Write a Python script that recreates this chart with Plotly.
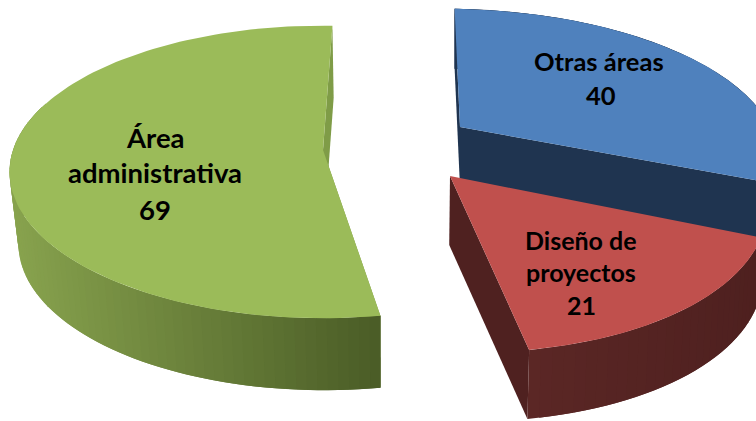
import math
import plotly.graph_objects as go

categories = ["Área administrativa", "Otras áreas", "Diseño de proyectos"]
values = [69, 40, 21]
label_lines = [["Área", "administrativa"], ["Otras áreas"], ["Diseño de", "proyectos"]]
top_colors = ["#9bbb59", "#4f81bd", "#c0504d"]
cut_colors = ["#7f9c47", "#1f3450", "#4f2120"]
wall_left = ["#88a34e", "#1f3450", "#5b2725"]
wall_right = ["#4a5c26", "#1f3450", "#4e201f"]

# perspective geometry of the three exploded slices (screen px)
START_DEG = 2.0
K = 0.15
VX = 385
tips = [(323, 150), (460, 127), (450, 176)]
radii_x = [310, 310, 310]
radii_y = [143, 136, 150]
shears = [0.0, 0.125, 0.125]
heights = [72, 60, 69]
converge = [0.024, 0.0, 0.012]
label_sizes = [27.5, 25.5, 25]
label_xy = [[(155, 137), (155, 172), (155, 209)],
            [(599, 61), (601, 95)],
            [(581, 240), (581, 272), (581, 305)]]


def rim(i, deg, bottom=False):
    t = math.radians(deg)
    f = math.cos(t)
    s = 1 / (1 + K * f)
    tx, ty = tips[i]
    dy = -radii_y[i] * f * s
    x = tx + radii_x[i] * math.sin(t) * s + shears[i] * dy
    y = ty + dy
    return lower(i, x, y) if bottom else (x, y)


def lower(i, x, y):
    return x + (VX - x) * converge[i], y + heights[i]


def poly(pts, color):
    xs = [p[0] for p in pts] + [pts[0][0]]
    ys = [p[1] for p in pts] + [pts[0][1]]
    return go.Scatter(x=xs, y=ys, mode="lines", fill="toself", fillcolor=color,
                      line=dict(color=color, width=0), hoverinfo="skip", showlegend=False)


def mix(c1, c2, w):
    a = [int(c1[j:j + 2], 16) for j in (1, 3, 5)]
    b = [int(c2[j:j + 2], 16) for j in (1, 3, 5)]
    return "#" + "".join(f"{round(p + (q - p) * w):02x}" for p, q in zip(a, b))


total = sum(values)
angles = [v / total * 360 for v in values]

# clockwise order on the dial: blue, red, then green
spans = {1: (START_DEG, START_DEG + angles[1])}
spans[2] = (spans[1][1], spans[1][1] + angles[2])
spans[0] = (spans[2][1], spans[2][1] + angles[0])

fig = go.Figure()
for i in [1, 0, 2]:
    a0, a1 = spans[i]
    tip = tips[i]
    tip_b = lower(i, *tip)

    # cut faces
    if i == 0:
        fig.add_trace(poly([rim(i, a0), rim(i, a0, True), tip_b, tip], cut_colors[i]))
        fig.add_trace(poly([rim(i, a1), rim(i, a1, True), tip_b, tip], cut_colors[i]))
    if i == 1:
        fig.add_trace(poly([rim(i, a0), rim(i, a0, True), tip_b, tip], cut_colors[i]))
        fig.add_trace(poly([rim(i, a1), rim(i, a1, True), tip_b, tip], cut_colors[i]))
    if i == 2:
        fig.add_trace(poly([rim(i, a1), rim(i, a1, True), tip_b, tip], cut_colors[i]))

    # outer wall in shaded strips, painted from the far end; each strip runs under the next
    n = 70 if i == 0 else 30
    lo, hi = (a0, min(a1, 290)) if i == 0 else (a0, a1)
    xs_all = [rim(i, lo + (hi - lo) * k / 200)[0] for k in range(201)]
    xlo, xhi = min(xs_all), max(xs_all)
    for k in range(n):
        d0 = hi - (hi - lo) * k / n
        d1 = hi - (hi - lo) * (k + 1) / n
        d2 = max(lo, hi - (hi - lo) * (k + 2) / n)
        mx = (rim(i, d0)[0] + rim(i, d1)[0]) / 2
        w = max(0, min(1, (mx - xlo) / (xhi - xlo)))
        col = mix(wall_left[i], wall_right[i], w)
        fig.add_trace(poly([rim(i, d0), rim(i, d1), rim(i, d2),
                            rim(i, d2, True), rim(i, d1, True), rim(i, d0, True)], col))

    # top face
    steps = 120
    pts = [tip] + [rim(i, a0 + (a1 - a0) * k / steps) for k in range(steps + 1)]
    fig.add_trace(poly(pts, top_colors[i]))

annotations = []
for i, lines in enumerate(label_lines):
    texts = lines + [str(values[i])]
    for text, (x, y) in zip(texts, label_xy[i]):
        annotations.append(dict(x=x, y=y, text=f"<b>{text}</b>", showarrow=False,
                                xref="x", yref="y", xanchor="center", yanchor="middle",
                                font=dict(family="Lato", size=label_sizes[i], color="#000000")))

fig.update_layout(width=756, height=421, margin=dict(l=0, r=0, t=0, b=0),
                  paper_bgcolor="white", plot_bgcolor="white", showlegend=False,
                  xaxis=dict(range=[0, 756], visible=False, fixedrange=True),
                  yaxis=dict(range=[421, 0], visible=False, fixedrange=True),
                  annotations=annotations)
fig.write_html("out.html", config={"displayModeBar": False},
               post_script="document.body.style.margin='0';")
